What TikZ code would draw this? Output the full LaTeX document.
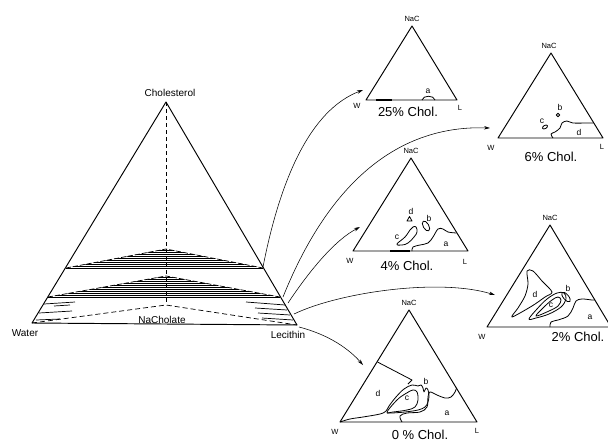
\documentclass[tikz,border=0pt]{standalone}
\usepackage{fontspec}
\setmainfont{Liberation Sans}
\usetikzlibrary{arrows.meta}
\begin{document}
\begin{tikzpicture}[x=1pt,y=-1pt,line join=round,
  edge/.style={line width=0.95pt},
  bound/.style={line width=0.8pt},
  hatch/.style={line width=0.7pt},
  conn/.style={line width=0.55pt,-{Stealth[length=6pt,width=3.5pt]}},
  big/.style={font=\fontsize{10}{12}\selectfont},
  corner/.style={font=\fontsize{7.5}{8}\selectfont},
  region/.style={font=\fontsize{8.5}{9}\selectfont},
  pct/.style={font=\fontsize{13}{15}\selectfont}]
\useasboundingbox (0,0) rectangle (608,442);
% ---------------- main triangle ----------------
\coordinate (C) at (166,102);
\coordinate (Wt) at (32,323);
\coordinate (Lc) at (297,325);
\coordinate (Na) at (166,305);
\draw[edge] (Wt) -- (C) -- (Lc) -- cycle;
\draw[dashed,line width=0.7pt,dash pattern=on 4pt off 3pt] (C) -- (Na);
\draw[dashed,line width=0.7pt,dash pattern=on 5pt off 3pt] (Wt) -- (Na) -- (Lc);
\node[big] (chol) at (170,93) {Cholesterol};
\node[big] (wat) at (25,333) {Water};
\node[big] (nacho) at (162,320) {NaCholate};
\node[big] (lec) at (288,335) {Lecithin};
% hump 1
\begin{scope}
\clip (66,268) -- (166,249) -- (263,268) -- cycle;
\foreach \y in {250,252,...,268} \draw[hatch] (60,\y) -- (270,\y);
\end{scope}
\draw[dashed,line width=0.7pt,dash pattern=on 5pt off 2pt] (66,268) -- (166,249) -- (263,268);
\draw[edge] (66,268) -- (263,268);
% hump 2
\begin{scope}
\clip (48,297) -- (166,276) -- (280,297) -- cycle;
\foreach \y in {277,279,...,297} \draw[hatch] (40,\y) -- (290,\y);
\end{scope}
\draw[dashed,line width=0.7pt,dash pattern=on 5pt off 2pt] (48,297) -- (166,276) -- (280,297);
\draw[edge] (48,297) -- (280,297);
% lower partial hatching
\draw[hatch] (44,304) -- (75,302);
\draw[hatch] (54,306) -- (70,305);
\draw[hatch] (39,313) -- (72,311);
\draw[hatch] (246,302) -- (285,305);
\draw[hatch] (255,308) -- (287,310);
\draw[hatch] (258,313) -- (290,315);
\draw[hatch] (262,318) -- (293,320);
\draw[hatch] (36,320) -- (60,319);
% ---------------- 25% Chol ----------------
\coordinate (A1) at (412,26);
\coordinate (W1) at (366,100);
\coordinate (L1) at (457,100);
\draw[edge] (W1) -- (A1) -- (L1) -- cycle;
\draw[bound] (422,100) .. controls (423,95) and (434,95) .. (435,100);
\draw[line width=1.2pt] (376,100) -- (392,100);
\node[corner] (n1) at (412,19) {NaC};
\node[corner] (w1) at (357,106) {W};
\node[corner] (l1) at (460,108) {L};
\node[region] (a1) at (428,91) {a};
\node[pct] (p1) at (408,112) {25\% Chol.};
% ---------------- 6% Chol ----------------
\coordinate (A2) at (551,53);
\coordinate (W2) at (498,138);
\coordinate (L2) at (603,138);
\draw[edge] (W2) -- (A2) -- (L2) -- cycle;
\draw[bound] plot[smooth,tension=0.6] coordinates {(553,138) (551,134) (555,132) (560,128) (562,123) (567,121) (573,123) (587,123) (593.5,123)};
\draw[bound] (558,115) circle[radius=1.8pt];
\draw[bound] (545,127) ellipse[x radius=2.8pt,y radius=1.6pt,rotate=30];
\node[corner] (n2) at (549,46) {NaC};
\node[corner] (w2) at (491,148) {W};
\node[corner] (l2) at (602,147) {L};
\node[region] (b2) at (560,107) {b};
\node[region] (c2) at (542,121) {c};
\node[region] (d2) at (579,132) {d};
\node[pct] (p2) at (551,157) {6\% Chol.};
% ---------------- 4% Chol ----------------
\coordinate (A3) at (411,158);
\coordinate (W3) at (353,251);
\coordinate (L3) at (468,251);
\draw[edge] (W3) -- (A3) -- (L3) -- cycle;
\draw[line width=1.2pt] (390,251) -- (410,251);
\draw[bound] (407,221) -- (409.5,216.5) -- (412,221) -- cycle;
\draw[bound] (426,226) ellipse[x radius=2.8pt,y radius=5.5pt,rotate=30];
\draw[bound] plot[smooth cycle,tension=0.7] coordinates {(397,244) (405,237) (410,230) (413,227) (416,227) (417,232) (414,237) (408,243) (402,245)};
\draw[bound] plot[smooth,tension=0.6] coordinates {(412,251) (413,247) (420,245) (428,243) (433,237) (438,229) (443,229) (448,232) (456.5,233)};
\node[corner] (n3) at (411,151) {NaC};
\node[corner] (w3) at (350,261) {W};
\node[corner] (l3) at (465,262) {L};
\node[region] (a3) at (446,244) {a};
\node[region] (b3) at (429,218) {b};
\node[region] (c3) at (397,237) {c};
\node[region] (d3) at (411,211) {d};
\node[pct] (p3) at (407,266) {4\% Chol.};
% ---------------- 2% Chol ----------------
\coordinate (A4) at (550,225);
\coordinate (W4) at (487,327);
\coordinate (L4) at (611,327);
\draw[edge] (W4) -- (A4) -- (L4) -- cycle;
\draw[bound] plot[smooth cycle,tension=0.5] coordinates {(527,271) (533,271) (542,281) (552,292) (545,297) (532,306) (512,317) (518,308) (525,296) (528,284)};
\draw[bound] plot[smooth cycle,tension=0.6] coordinates {(529,319) (537,309) (547,299) (557,293) (564,293) (566,299) (561,307) (549,314) (536,318)};
\draw[bound] plot[smooth cycle,tension=0.6] coordinates {(536,316) (544,307) (552,300) (558,297) (561,300) (558,306) (549,311)};
\draw[bound] (566,297) ellipse[x radius=2.6pt,y radius=6pt,rotate=40];
\draw[bound] plot[smooth,tension=0.6] coordinates {(550,327) (551,322) (558,320) (568,316) (573,308) (576,301) (582,299) (592,300) (595,300)};
\node[corner] (n4) at (550,218) {NaC};
\node[corner] (w4) at (482,337) {W};
\node[region] (a4) at (590,317) {a};
\node[region] (b4) at (568,288) {b};
\node[region] (c4) at (551,305) {c};
\node[region] (d4) at (535,294) {d};
\node[pct] (p4) at (578,337) {2\% Chol.};
% ---------------- 0% Chol ----------------
\coordinate (A5) at (409,310);
\coordinate (W5) at (340,422);
\coordinate (L5) at (477,422);
\draw[edge] (W5) -- (A5) -- (L5) -- cycle;
\draw[bound] (377.5,362) -- (412,380) -- (408,384);
\draw[bound] plot[smooth,tension=0.6] coordinates {(340,422) (350,419) (363,417) (380,414) (386,411) (389,406) (396,397) (404,389) (412,385) (418,386) (421,385) (423,388) (424,392) (426,388) (428,390) (429,396) (428,402) (425,407) (418,410) (405,412) (392,413) (387,413)};
\draw[bound] plot[smooth cycle,tension=0.6] coordinates {(387,412) (397,400) (405,394) (413,390) (417,392) (418,400) (415,407) (407,410) (393,412)};
\draw[bound] plot[smooth,tension=0.6] coordinates {(402,422) (400,416) (407,413) (420,412) (427,407) (428,397) (430,392) (437,395) (445,398) (451,397) (455,392) (456.5,388)};
\node[corner] (n5) at (409,303) {NaC};
\node[corner] (w5) at (335,432) {W};
\node[corner] (l5) at (477,431) {L};
\node[region] (a5) at (447,413) {a};
\node[region] (b5) at (426,381) {b};
\node[region] (c5) at (407,398) {c};
\node[region] (d5) at (378,393) {d};
\node[pct] (p5) at (420,434.5) {0 \% Chol.};
% ---------------- connectors ----------------
\coordinate (s1) at (263,267);
\coordinate (e1) at (363,90);
\coordinate (s2) at (283,297);
\coordinate (e2) at (490,128);
\coordinate (s3) at (288,303);
\coordinate (e3) at (360,227);
\coordinate (s4) at (294,314);
\coordinate (e4) at (495,295);
\coordinate (s5) at (299,327);
\coordinate (e5) at (363,365);
\draw[conn] (s1) .. controls (280,180) and (310,110) .. (e1);
\draw[conn] (s2) .. controls (330,180) and (400,125) .. (e2);
\draw[conn] (s3) .. controls (310,270) and (335,240) .. (e3);
\draw[conn] (s4) .. controls (340,292) and (440,278) .. (e4);
\draw[conn] (s5) .. controls (330,335) and (350,350) .. (e5);
\end{tikzpicture}
\end{document}
